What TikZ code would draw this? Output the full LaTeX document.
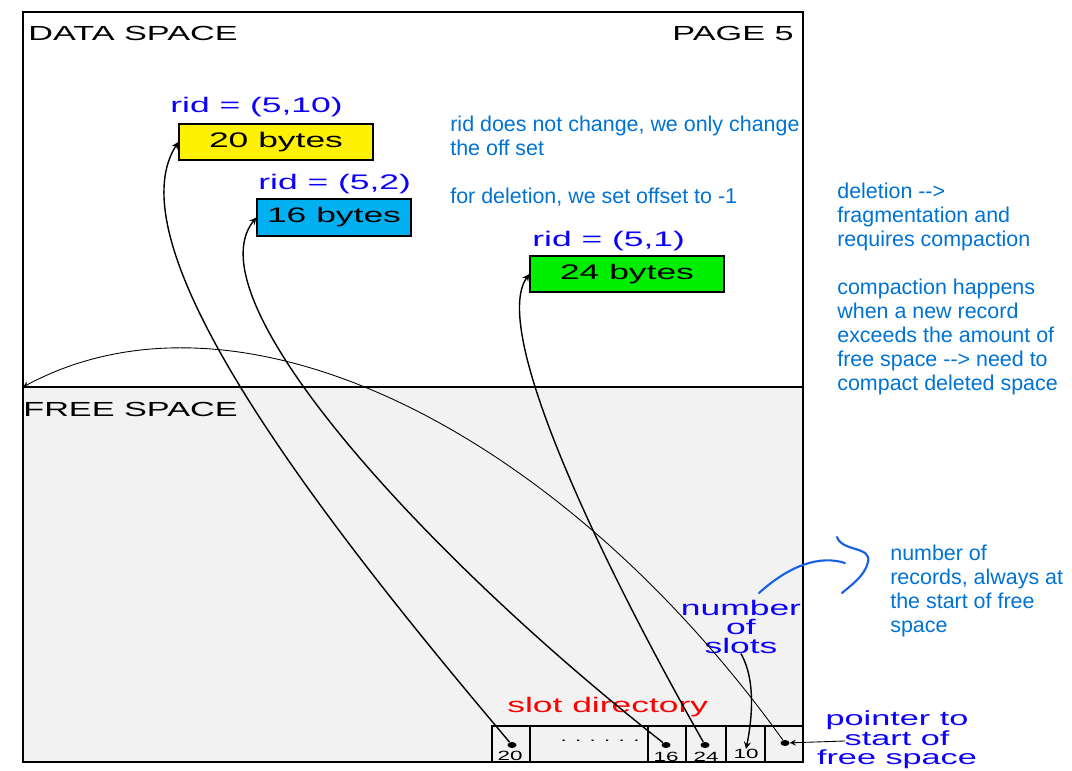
\documentclass[tikz,border=0pt]{standalone}
\usepackage{fontspec}
\setmainfont{Liberation Sans}
\newfontfamily\widefont[FakeStretch=1.68]{Liberation Sans}
\usetikzlibrary{arrows,shapes.geometric}
\definecolor{ridBlue}{RGB}{12,0,250}
\definecolor{noteBlue}{RGB}{0,114,212}
\definecolor{handBlue}{RGB}{22,96,230}
\definecolor{freeGray}{RGB}{242,242,242}
\definecolor{recYellow}{RGB}{255,242,0}
\definecolor{recCyan}{RGB}{0,176,240}
\definecolor{recGreen}{RGB}{0,238,0}
\tikzset{
  every picture/.style={>=stealth}}

\begin{document}
\begin{tikzpicture}[
    x=0.02cm, y=-0.02cm,
    wide/.style={inner sep=0pt, font={\widefont\fontsize{12}{13}\selectfont}},
    spaceLbl/.style={inner sep=0pt, font={\widefont\fontsize{11.6}{13}\selectfont}},
    recBox/.style={
      draw, line width=0.8pt, inner sep=0pt,
      font={\widefont\fontsize{12}{13}\selectfont},
      minimum height=0.72cm},
    ridLabel/.style={wide, text=ridBlue, anchor=base west},
    note/.style={
      inner sep=0pt, anchor=north west, align=left, text=noteBlue,
      font={\fontsize{12.2}{13.6}\selectfont}},
    slotText/.style={inner sep=0pt, font={\widefont\fontsize{7.6}{8}\selectfont}},
    slotDot/.style={ellipse, fill, inner sep=0pt, minimum width=0.18cm, minimum height=0.12cm},
    ptr/.style={->, line width=0.8pt}]

    \useasboundingbox (0,0) rectangle (1072,771);

    % page frame, free space below
    \fill[freeGray] (23,387) rectangle (803,762);
    \draw[line width=1pt] (23,12) rectangle (803,762);
    \draw[line width=1pt] (23,387) -- (803,387);

    \node[spaceLbl, anchor=base west] (dataLbl) at (28,40) {DATA SPACE};
    \node[spaceLbl, anchor=base east] (pageLbl) at (794,40) {PAGE 5};
    \node[spaceLbl, anchor=base west] (freeLbl) at (23,416) {FREE SPACE};

    % records
    \node[ridLabel] (rid1) at (170,112) {rid = (5,10)};
    \node[recBox, fill=recYellow, minimum width=3.88cm] (yBox) at (276,142) {20 bytes};
    \node[ridLabel] (rid2) at (258,189) {rid = (5,2)};
    \node[recBox, fill=recCyan, minimum width=3.08cm, minimum height=0.74cm] (cBox) at (334,217.5) {16 bytes};
    \node[ridLabel] (rid3) at (532,246) {rid = (5,1)};
    \node[recBox, fill=recGreen, minimum width=3.88cm] (gBox) at (627,274) {24 bytes};

    % notes
    \node[note] (noteRid) at (450,116)
      {rid does not change, we only change\\the off set\\[13.6pt]for deletion, we set offset to -1};
    \node[note] (noteDel) at (837,183)
      {deletion -{}-{}>\\fragmentation and\\requires compaction\\[13.6pt]compaction happens\\when a new record\\exceeds the amount of\\free space -{}-{}> need to\\compact deleted space};
    \node[note] (noteCnt) at (890,545)
      {number of\\records, always at\\the start of free\\space};

    % slot directory
    \node[wide, text=red, anchor=base west] (dirLbl) at (507,712) {slot directory};
    \draw[line width=0.8pt] (492,726) rectangle (803,762);
    \foreach \sx in {530,648,686,726,765}
      \draw[line width=0.8pt] (\sx,726) -- (\sx,762);

    \node[slotText] (s20) at (510,756) {20};
    \node[slotText] (sDots) at (600,741) {. . . . . .};
    \node[slotText] (s16) at (666,757) {16};
    \node[slotText] (s24) at (706,757) {24};
    \node[slotText] (s10) at (746,754) {10};

    \node[slotDot] (d20) at (512,745) {};
    \node[slotDot] (d16) at (666,745) {};
    \node[slotDot] (d24) at (705,745) {};
    \node[slotDot] (dFree) at (785,743) {};

    \node[wide, text=ridBlue, align=center, font={\widefont\fontsize{12}{10.6}\selectfont}]
      (slotsLbl) at (741,627) {number\\of\\slots};
    \node[wide, text=ridBlue, align=center, anchor=north, font={\widefont\fontsize{11.6}{10.6}\selectfont}]
      (ptrLbl) at (897,710) {pointer to\\start of\\free space};
    \coordinate (ptrTail) at (845,741);

    % slot pointers
    \draw[ptr] (d20) .. controls (330,530) and (110,250) .. (yBox.west);
    \draw[ptr] (d16) .. controls (430,560) and (190,300) .. (cBox.west);
    \draw[ptr] (d24) .. controls (600,560) and (490,330) .. (gBox.west);
    \draw[->, line width=0.5pt] (dFree) .. controls (560,430) and (240,270) .. (23,387);
    \draw[ptr] (slotsLbl.south) .. controls (756,680) and (752,720) .. (s10.north);
    \draw[->, line width=0.5pt] (ptrTail) -- (dFree);

    % pen strokes
    \draw[handBlue, line width=1.2pt, line cap=round] (759,593) .. controls (790,565) and (820,555) .. (845,563);
    \draw[handBlue, line width=1.2pt, line cap=round] (837,537) .. controls (842,552) and (872,546) .. (868,562)
      .. controls (865,576) and (850,586) .. (842,593);
  \end{tikzpicture}
\end{document}
